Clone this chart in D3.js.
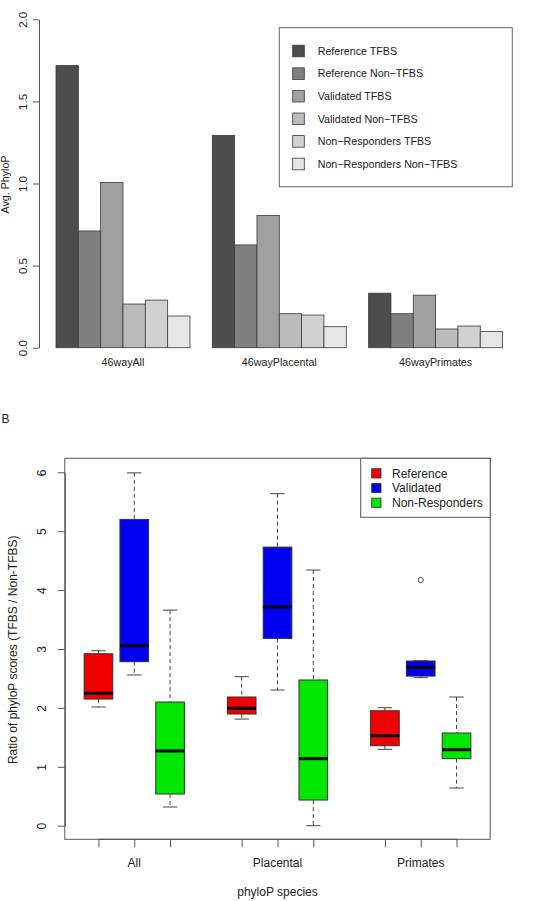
<!DOCTYPE html>
<html>
<head>
<meta charset="utf-8">
<script src="https://cdn.jsdelivr.net/npm/d3@7"></script>
<style>
  html, body { margin: 0; padding: 0; background: #fff; }
  svg { display: block; font-family: "Liberation Sans", Arial, Helvetica, sans-serif; }
</style>
</head>
<body>
<svg id="chart" width="547" height="901"></svg>
<script>
// ---------- Panel A data ----------
const barCategories = ["46wayAll", "46wayPlacental", "46wayPrimates"];
const barSeries = ["Reference TFBS", "Reference Non\u2212TFBS", "Validated TFBS",
                   "Validated Non\u2212TFBS", "Non\u2212Responders TFBS", "Non\u2212Responders Non\u2212TFBS"];
const referenceTFBS      = [1.718, 1.293, 0.332];
const referenceNonTFBS   = [0.711, 0.626, 0.207];
const validatedTFBS      = [1.006, 0.805, 0.320];
const validatedNonTFBS   = [0.266, 0.207, 0.114];
const nonRespTFBS        = [0.290, 0.199, 0.132];
const nonRespNonTFBS     = [0.193, 0.128, 0.098];
const barColors = ["#4d4d4d", "#7f7f7f", "#a0a0a0", "#bbbbbb", "#d1d1d1", "#e6e6e6"];
const barTicks = [0, 0.5, 1.0, 1.5, 2.0];

// ---------- Panel B data ----------
const boxSpecies = ["All", "Placental", "Primates"];
const boxGroups = ["Reference", "Validated", "Non-Responders"];
// [lower whisker, Q1, median, Q3, upper whisker]
const referenceStats = [[2.015, 2.15, 2.248, 2.92, 2.97], [1.81, 1.896, 1.993, 2.185, 2.53], [1.297, 1.358, 1.528, 1.952, 2.003]];
const validatedStats = [[2.559, 2.784, 3.056, 5.20, 5.99], [2.304, 3.18, 3.713, 4.73, 5.637], [2.513, 2.54, 2.689, 2.796, 2.80]];
const nonRespStats   = [[0.317, 0.538, 1.268, 2.10, 3.66], [0.0, 0.436, 1.138, 2.474, 4.341], [0.64, 1.138, 1.29, 1.574, 2.185]];
const outlierSpecies = ["Primates"];
const outlierGroup = ["Validated"];
const outlierValue = [4.17];
const boxColors = ["#f00000", "#0000f0", "#00e600"];
const boxTicks = [0, 1, 2, 3, 4, 5, 6];

const svg = d3.select("#chart");
const axisCol = "#555";
const textCol = "#222";

// ================= Panel A =================
const A = svg.append("g");
const yA = d3.scaleLinear().domain([0, 2]).range([347.7, 19.3]);
const xA = d3.scaleLinear().domain([1, 21]).range([56, 502.6]);
const seriesVals = [referenceTFBS, referenceNonTFBS, validatedTFBS, validatedNonTFBS, nonRespTFBS, nonRespNonTFBS];

const barData = [];
barCategories.forEach((c, g) => {
  seriesVals.forEach((arr, j) => {
    barData.push({ g, j, v: arr[g] });
  });
});
A.selectAll("rect.bar").data(barData).enter().append("rect")
  .attr("class", "bar")
  .attr("x", d => xA(1 + d.g * 7 + d.j))
  .attr("width", d => xA(2 + d.g * 7 + d.j) - xA(1 + d.g * 7 + d.j))
  .attr("y", d => yA(d.v))
  .attr("height", d => yA(0) - yA(d.v))
  .attr("fill", d => barColors[d.j])
  .attr("stroke", "#3a3a3a")
  .attr("stroke-width", 0.8);

// y axis
const yAxisA = A.append("g").attr("transform", "translate(39,0)")
  .call(d3.axisLeft(yA).tickValues(barTicks).tickFormat(d3.format(".1f")).tickSize(6).tickSizeOuter(0));
yAxisA.select(".domain").attr("stroke", axisCol);
yAxisA.selectAll(".tick line").attr("stroke", axisCol);
yAxisA.selectAll(".tick text")
  .attr("x", null).attr("dy", null)
  .attr("font-size", 11.5).attr("fill", textCol)
  .attr("text-anchor", "middle")
  .attr("transform", "translate(-15.7,0) rotate(-90)")
  .attr("y", 0).attr("dy", "0.36em");
yAxisA.attr("font-family", null);

A.append("text")
  .attr("transform", `translate(9,${(yA(0) + yA(2)) / 2 + 1}) rotate(-90)`)
  .attr("text-anchor", "middle").attr("font-size", 10.7).attr("fill", textCol)
  .text("Avg. PhyloP");

// group labels
A.selectAll("text.grp").data(barCategories).enter().append("text")
  .attr("class", "grp")
  .attr("x", (d, g) => xA(4 + g * 7))
  .attr("y", 365.5)
  .attr("text-anchor", "middle").attr("font-size", 10.7).attr("fill", textCol)
  .text(d => d);

// legend A
const legA = A.append("g");
legA.append("rect").attr("x", 279.3).attr("y", 27.7).attr("width", 233).attr("height", 159)
  .attr("fill", "#fff").attr("stroke", "#666").attr("stroke-width", 1);
const legAy = d3.scaleLinear().domain([0, 5]).range([51, 164]);
barSeries.forEach((s, j) => {
  legA.append("rect").attr("x", 292.7).attr("y", legAy(j) - 5.8).attr("width", 11.6).attr("height", 11.6)
    .attr("fill", barColors[j]).attr("stroke", "#3a3a3a").attr("stroke-width", 0.8);
  legA.append("text").attr("x", 317.7).attr("y", legAy(j) + 3.8)
    .attr("font-size", 10.7).attr("fill", textCol).text(s);
});

// ================= Panel B =================
const B = svg.append("g");
B.append("text").attr("x", 1.5).attr("y", 422.5).attr("font-size", 12).attr("fill", textCol).text("B");

const yB = d3.scaleLinear().domain([0, 6]).range([825.7, 472.3]);
const xB = d3.scaleLinear().domain([0.06, 11.94]).range([64.8, 490.2]);
const statsAll = [referenceStats, validatedStats, nonRespStats];
const pos = (s, g) => 1 + s * 4 + g;
const boxW = 0.8;

const boxData = [];
boxSpecies.forEach((sp, s) => {
  boxGroups.forEach((gr, g) => {
    const st = statsAll[g][s];
    boxData.push({ s, g, lo: st[0], q1: st[1], med: st[2], q3: st[3], hi: st[4] });
  });
});

const bg = B.selectAll("g.box").data(boxData).enter().append("g").attr("class", "box");
const cx = d => xB(pos(d.s, d.g));
const halfW = xB(boxW / 2) - xB(0);
// whiskers dashed
bg.append("line").attr("x1", cx).attr("x2", cx)
  .attr("y1", d => yB(d.hi)).attr("y2", d => yB(d.q3))
  .attr("stroke", "#444").attr("stroke-dasharray", "4,3").attr("stroke-width", 1);
bg.append("line").attr("x1", cx).attr("x2", cx)
  .attr("y1", d => yB(d.q1)).attr("y2", d => yB(d.lo))
  .attr("stroke", "#444").attr("stroke-dasharray", "4,3").attr("stroke-width", 1);
// caps
bg.append("line").attr("x1", d => cx(d) - halfW / 2).attr("x2", d => cx(d) + halfW / 2)
  .attr("y1", d => yB(d.hi)).attr("y2", d => yB(d.hi)).attr("stroke", "#444").attr("stroke-width", 1);
bg.append("line").attr("x1", d => cx(d) - halfW / 2).attr("x2", d => cx(d) + halfW / 2)
  .attr("y1", d => yB(d.lo)).attr("y2", d => yB(d.lo)).attr("stroke", "#444").attr("stroke-width", 1);
// boxes
bg.append("rect").attr("x", d => cx(d) - halfW).attr("width", 2 * halfW)
  .attr("y", d => yB(d.q3)).attr("height", d => yB(d.q1) - yB(d.q3))
  .attr("fill", d => boxColors[d.g]).attr("stroke", "#333").attr("stroke-width", 1);
// medians
bg.append("line").attr("x1", d => cx(d) - halfW).attr("x2", d => cx(d) + halfW)
  .attr("y1", d => yB(d.med)).attr("y2", d => yB(d.med)).attr("stroke", "#000").attr("stroke-width", 3);

// outliers
const outData = outlierValue.map((v, i) => ({ s: boxSpecies.indexOf(outlierSpecies[i]), g: boxGroups.indexOf(outlierGroup[i]), v }));
B.selectAll("circle.out").data(outData).enter().append("circle")
  .attr("cx", d => xB(pos(d.s, d.g))).attr("cy", d => yB(d.v)).attr("r", 2.6)
  .attr("fill", "none").attr("stroke", "#444").attr("stroke-width", 1);

// plot frame
B.append("rect").attr("x", xB(0.06)).attr("y", 458.3).attr("width", xB(11.94) - xB(0.06)).attr("height", 839.3 - 458.3)
  .attr("fill", "none").attr("stroke", axisCol).attr("stroke-width", 1);

// y axis B
const yAxisB = B.append("g").attr("transform", `translate(${xB(0.06)},0)`)
  .call(d3.axisLeft(yB).tickValues(boxTicks).tickFormat(d3.format("d")).tickSize(7).tickSizeOuter(0));
yAxisB.select(".domain").attr("stroke", axisCol);
yAxisB.selectAll(".tick line").attr("stroke", axisCol);
yAxisB.selectAll(".tick text")
  .attr("x", null).attr("dy", null)
  .attr("font-size", 12).attr("fill", textCol)
  .attr("text-anchor", "middle")
  .attr("transform", `translate(${41.7 - xB(0.06)},0) rotate(-90)`)
  .attr("y", 0).attr("dy", "0.36em");
yAxisB.attr("font-family", null);

// x axis B
const xTickPos = [];
boxSpecies.forEach((sp, s) => boxGroups.forEach((gr, g) => xTickPos.push(pos(s, g))));
const xAxisB = B.append("g").attr("transform", "translate(0,839.3)")
  .call(d3.axisBottom(xB).tickValues(xTickPos).tickFormat("").tickSize(8).tickSizeOuter(0));
xAxisB.select(".domain").attr("stroke", axisCol)
  .attr("d", `M${xB(1)},0H${xB(11)}`);
xAxisB.selectAll(".tick line").attr("stroke", axisCol);

B.selectAll("text.sp").data(boxSpecies).enter().append("text")
  .attr("class", "sp")
  .attr("x", (d, s) => xB(pos(s, 1)))
  .attr("y", 866.5)
  .attr("text-anchor", "middle").attr("font-size", 12).attr("fill", textCol)
  .text(d => d);

B.append("text").attr("x", xB(6)).attr("y", 896)
  .attr("text-anchor", "middle").attr("font-size", 12).attr("fill", textCol)
  .text("phyloP species");

B.append("text")
  .attr("transform", `translate(16.8,${(458.3 + 839.3) / 2 + 1}) rotate(-90)`)
  .attr("text-anchor", "middle").attr("font-size", 12).attr("fill", textCol)
  .text("Ratio of phyloP scores (TFBS / Non-TFBS)");

// legend B
const legB = B.append("g");
legB.append("rect").attr("x", 360.7).attr("y", 458.3).attr("width", xB(11.94) - 360.7).attr("height", 59)
  .attr("fill", "#fff").attr("stroke", axisCol).attr("stroke-width", 1);
const legBy = d3.scaleLinear().domain([0, 2]).range([473.3, 502.7]);
boxGroups.forEach((gname, g) => {
  legB.append("rect").attr("x", 371.7).attr("y", legBy(g) - 4.6).attr("width", 9.3).attr("height", 9.3)
    .attr("fill", boxColors[g]).attr("stroke", "#333").attr("stroke-width", 0.8);
  legB.append("text").attr("x", 392).attr("y", legBy(g) + 4.3)
    .attr("font-size", 12).attr("fill", textCol).text(gname);
});
</script>
</body>
</html>
